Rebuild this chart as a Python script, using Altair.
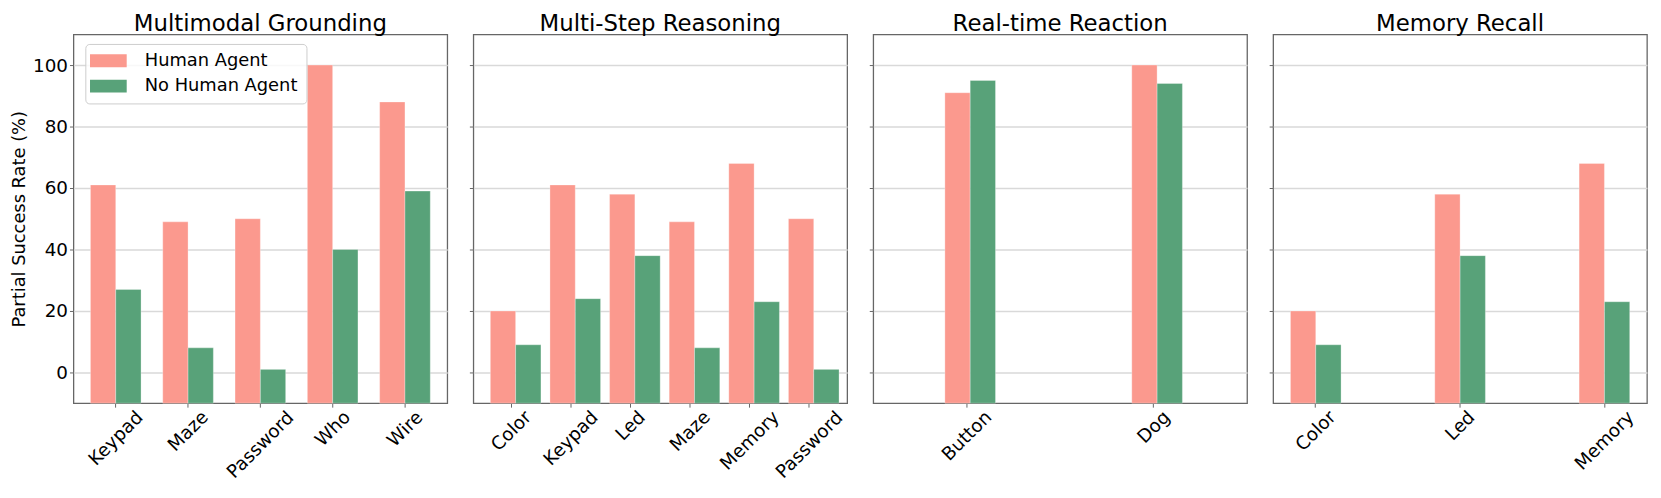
import altair as alt
import pandas as pd

# ---------------- data ----------------
series = ["Human Agent", "No Human Agent"]
colors = ["#FB998E", "#58A279"]
panel_titles = ["Multimodal Grounding", "Multi-Step Reasoning", "Real-time Reaction", "Memory Recall"]

mg_tasks = ["Keypad", "Maze", "Password", "Who", "Wire"]
mg_human = [61, 49, 50, 100, 88]
mg_nohuman = [27, 8, 1, 40, 59]

msr_tasks = ["Color", "Keypad", "Led", "Maze", "Memory", "Password"]
msr_human = [20, 61, 58, 49, 68, 50]
msr_nohuman = [9, 24, 38, 8, 23, 1]

rtr_tasks = ["Button", "Dog"]
rtr_human = [91, 100]
rtr_nohuman = [95, 94]

mr_tasks = ["Color", "Led", "Memory"]
mr_human = [20, 58, 68]
mr_nohuman = [9, 38, 23]

y_ticks = [0, 20, 40, 60, 80, 100]
y_title = "Partial Success Rate (%)"

# ---------------- style ----------------
FONT = "DejaVu Sans"
W, H = 377, 372
FRAME = "#666666"
GRID = "#d9d9d9"

# DejaVu Sans advance widths (em) used to place rotated tick labels like matplotlib
ADV = {"K": .656, "e": .615, "y": .592, "p": .635, "a": .613, "d": .635, "M": .863,
       "z": .525, "P": .603, "s": .521, "w": .818, "o": .612, "r": .411, "W": .989,
       "h": .634, "i": .278, "C": .698, "l": .278, "L": .557, "m": .974, "B": .686,
       "u": .634, "t": .392, "n": .634, "D": .770, "g": .635}
LABEL_FS = 18.5
X_TICK = 4
Y_TICK = 4


def label_pad(lab):
    w = sum(ADV.get(c, 0.6) for c in lab) * LABEL_FS
    return round(3 + 0.354 * (w + 21) - X_TICK, 1)


def make_df(tasks, human, nohuman):
    rows = []
    for t, h, n in zip(tasks, human, nohuman):
        rows.append({"task": t, "series": series[0], "value": h})
        rows.append({"task": t, "series": series[1], "value": n})
    return pd.DataFrame(rows)


def panel(tasks, human, nohuman, title, p_inner, p_outer, first=False):
    df = make_df(tasks, human, nohuman)
    conds = [{"test": f"datum.value === '{t}'", "value": label_pad(t)} for t in tasks]
    x_axis = alt.Axis(
        title=None, labelAngle=-45, labelAlign="center", labelBaseline="middle",
        labelFontSize=LABEL_FS, labelFont=FONT, labelColor="black",
        labelPadding={"condition": conds, "value": 25},
        tickSize=X_TICK, tickColor=FRAME, domain=False, grid=False,
    )
    if first:
        y_axis = alt.Axis(
            values=y_ticks, title=y_title, titleFontSize=18, titleFont=FONT,
            titleFontWeight="normal", titleColor="black", titlePadding=4,
            labelFontSize=LABEL_FS, labelFont=FONT, labelColor="black", labelPadding=2,
            tickSize=Y_TICK, tickColor=FRAME, domain=False, grid=True,
            gridColor=GRID, gridWidth=1.5,
        )
        legend = alt.Legend(
            title=None, orient="none", legendX=12, legendY=9.7,
            symbolType="M-1.366,-0.722H2.746V0.722H-1.366Z", symbolSize=324,
            symbolStrokeWidth=0, symbolOpacity=1,
            labelFontSize=18, labelFont=FONT, labelColor="black",
            labelOffset=33.9, rowPadding=7.5, padding=8,
            fillColor="rgba(255,255,255,0.8)", strokeColor="#cccccc", cornerRadius=4,
        )
    else:
        y_axis = alt.Axis(
            values=y_ticks, title=None, labels=False, tickSize=Y_TICK, tickColor=FRAME,
            domain=False, grid=True, gridColor=GRID, gridWidth=1.5,
        )
        legend = None
    return alt.Chart(df).mark_bar(stroke="white", strokeWidth=0.6, strokeOpacity=0.5).encode(
        x=alt.X("task:N", sort=tasks,
                scale=alt.Scale(paddingInner=p_inner, paddingOuter=p_outer), axis=x_axis),
        xOffset=alt.XOffset("series:N", sort=series,
                            scale=alt.Scale(domain=series, paddingInner=0, paddingOuter=0)),
        y=alt.Y("value:Q", scale=alt.Scale(domain=[-10, 110], nice=False, zero=False), axis=y_axis),
        y2=alt.datum(-10),
        color=alt.Color("series:N", sort=series,
                        scale=alt.Scale(domain=series, range=colors), legend=legend),
    ).properties(
        width=W, height=H,
        view=alt.ViewBackground(stroke=FRAME, strokeWidth=1.3, fill="white"),
        title=alt.TitleParams(title, fontSize=23, font=FONT, fontWeight="normal",
                              color="black", baseline="alphabetic", offset=-20),
    )


p1 = panel(mg_tasks, mg_human, mg_nohuman, panel_titles[0], 0.3, 0.235, first=True)
p2 = panel(msr_tasks, msr_human, msr_nohuman, panel_titles[1], 0.3, 0.285)
p3 = panel(rtr_tasks, rtr_human, rtr_nohuman, panel_titles[2], 0.7666, 0.3833)
p4 = panel(mr_tasks, mr_human, mr_nohuman, panel_titles[3], 0.65, 0.12)

chart = alt.hconcat(p1, p2, p3, p4, spacing=19.3).resolve_scale(
    x="independent", color="independent"
).configure_view(
    stroke=FRAME, strokeWidth=1.3
).configure(
    background="white", font=FONT,
    padding={"left": 2, "top": 2.5, "right": 5, "bottom": 5},
)

chart.save("out.html", embed_options={"renderer": "svg", "actions": False})
